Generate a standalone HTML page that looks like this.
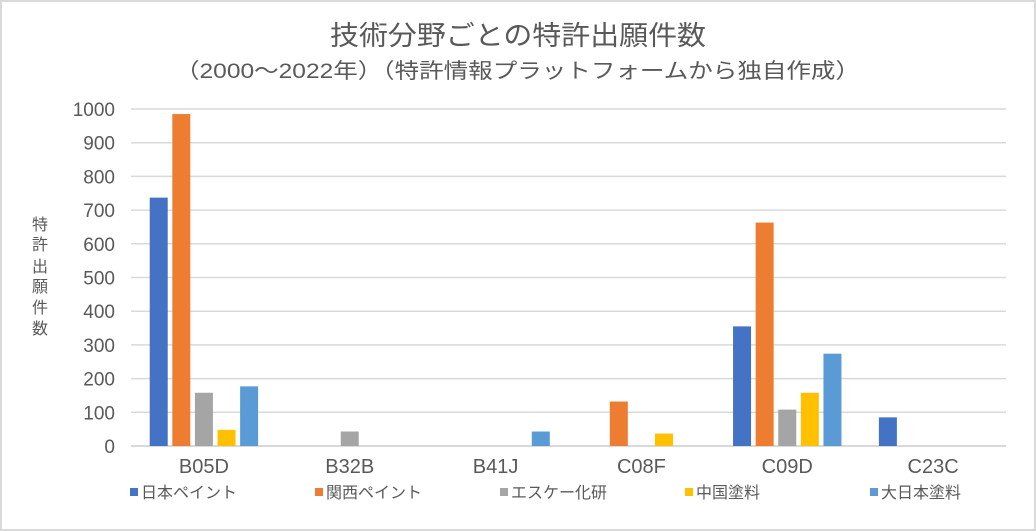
<!DOCTYPE html>
<html><head><meta charset="utf-8"><style>
body{margin:0;background:#fff;}
svg{display:block;font-family:"Liberation Sans","Noto Sans CJK JP",sans-serif;}
</style></head><body>
<svg id="c" width="1036" height="531">
<rect x="1" y="1" width="1034" height="529" fill="#fff" stroke="#d9d9d9" stroke-width="2"/>
<text x="330" y="45" font-size="27" fill="#595959" textLength="376" lengthAdjust="spacingAndGlyphs">技術分野ごとの特許出願件数</text>
<text x="175" y="78" font-size="21" fill="#595959" textLength="685" lengthAdjust="spacingAndGlyphs">（2000～2022年）（特許情報プラットフォームから独自作成）</text>
<g id="grid"></g><g id="bars"></g><g id="labels"></g>
<g font-size="16" fill="#595959" text-anchor="middle">
<text x="40" y="230">特</text><text x="40" y="250">許</text><text x="40" y="272">出</text><text x="40" y="292">願</text><text x="40" y="313">件</text><text x="40" y="334">数</text>
</g>
<g id="legend"></g>
</svg>
<script>
const categories=["B05D","B32B","B41J","C08F","C09D","C23C"];
const seriesNames=["日本ペイント","関西ペイント","エスケー化研","中国塗料","大日本塗料"];
const colors=["#4472c4","#ed7d31","#a5a5a5","#ffc000","#5b9bd5"];
const s0=[737,0,0,0,355,85];
const s1=[985,0,0,132,663,0];
const s2=[158,43,0,0,108,0];
const s3=[48,0,0,37,158,0];
const s4=[177,0,43,0,274,0];
const series=[s0,s1,s2,s3,s4];
const ticks=[0,100,200,300,400,500,600,700,800,900,1000];
const NS="http://www.w3.org/2000/svg";
const x0=131,x1=1006,y0=446,y1=109,ymax=1000;
const y=v=>y0-(y0-y1)*v/ymax;
const cw=(x1-x0)/categories.length;
const bw=18,step=22.6;
function mk(t,a,p){const e=document.createElementNS(NS,t);for(const k in a)e.setAttribute(k,a[k]);p.appendChild(e);return e;}
const g=document.getElementById('grid');
ticks.forEach(t=>{
 const l=mk('line',{x1:x0,x2:x1,y1:y(t),y2:y(t),stroke:'#d9d9d9','stroke-width':t===0?2:1.5},g);
 
 
 const tx=mk('text',{x:115,y:y(t)+7,'text-anchor':'end','font-size':19,fill:'#595959'},g);
 tx.textContent=t;
 
 
});
const b=document.getElementById('bars');
categories.forEach((c,i)=>{
 const cx=x0+cw*(i+0.5);
 series.forEach((s,j)=>{
  if(!s[i])return;
  const bx=cx+(j-2)*step-bw/2;
  const r=mk('rect',{x:bx,y:y(s[i]),width:bw,height:y0-y(s[i]),fill:colors[j]},b);
  
  
 });
 const t=mk('text',{x:cx,y:473,'text-anchor':'middle','font-size':20,fill:'#595959'},document.getElementById('labels'));
 t.textContent=c;
 
 
});
const lg=document.getElementById('legend');
const lx=[130,315,500,685,870];
seriesNames.forEach((n,j)=>{
 const r=mk('rect',{x:lx[j],y:488,width:8,height:8,fill:colors[j]},lg);
 
 
 const t=mk('text',{x:lx[j]+11,y:498,'font-size':16,fill:'#595959'},lg);
 t.textContent=n;
 
 
});
</script>
</body></html>
